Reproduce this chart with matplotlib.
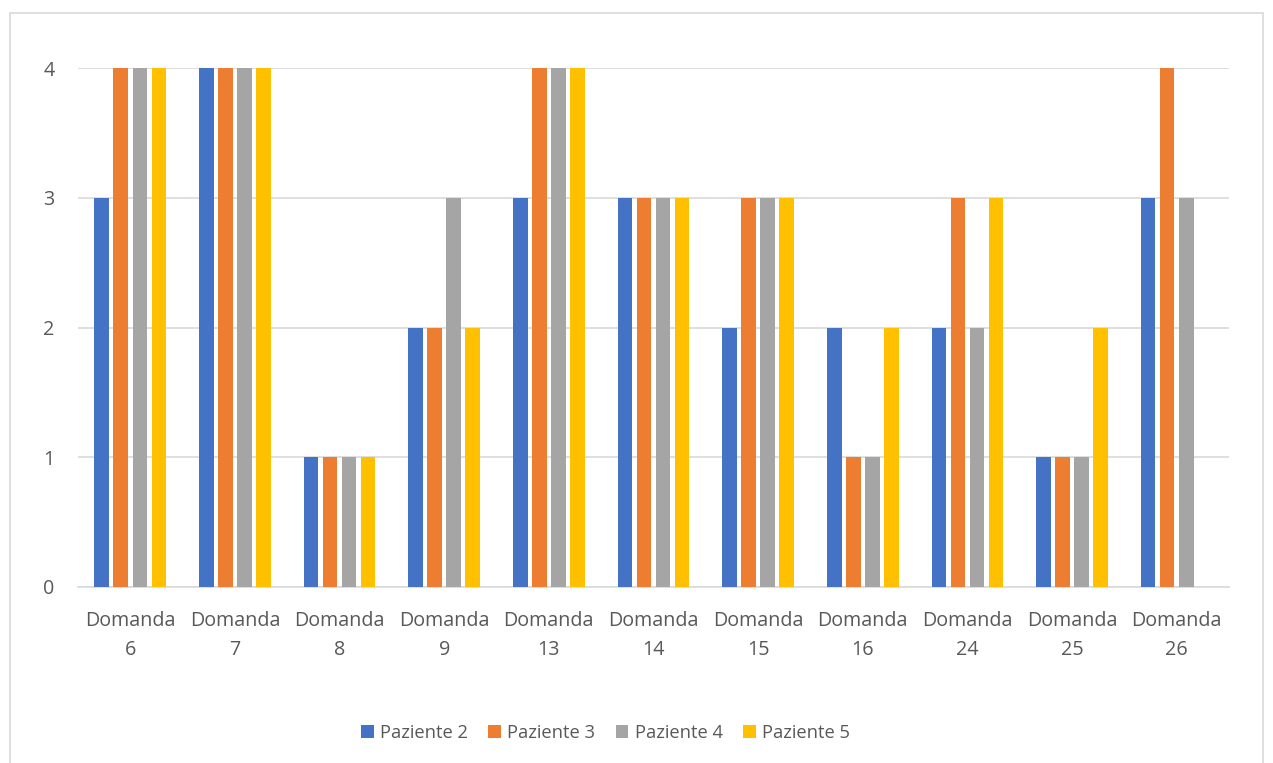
import matplotlib
matplotlib.use("Agg")
import matplotlib.pyplot as plt
from matplotlib.patches import Rectangle
import numpy as np

categories = ["Domanda\n6", "Domanda\n7", "Domanda\n8", "Domanda\n9", "Domanda\n13",
              "Domanda\n14", "Domanda\n15", "Domanda\n16", "Domanda\n24", "Domanda\n25",
              "Domanda\n26"]
paziente2 = [3, 4, 1, 2, 3, 3, 2, 2, 2, 1, 3]
paziente3 = [4, 4, 1, 2, 4, 3, 3, 1, 3, 1, 4]
paziente4 = [4, 4, 1, 3, 4, 3, 3, 1, 2, 1, 3]
paziente5 = [4, 4, 1, 2, 4, 3, 3, 2, 3, 2, 0]
series_names = ["Paziente 2", "Paziente 3", "Paziente 4", "Paziente 5"]
colors = ["#4472C4", "#ED7D31", "#A5A5A5", "#FFC000"]
yticks = [0, 1, 2, 3, 4]

plt.rcParams['font.family'] = ['Open Sans', 'DejaVu Sans']
text_color = "#595959"

W, H = 1273, 763
fig = plt.figure(figsize=(W / 100, H / 100), dpi=100)
fig.patch.set_facecolor("white")

# outer chart frame
fig.patches.append(Rectangle((9.5 / W, -0.05), (1263 - 9.5) / W, 1 - 12.5 / H + 0.05,
                             transform=fig.transFigure, fill=False,
                             edgecolor="#D9D9D9", linewidth=1.2))

ax = fig.add_axes([78 / W, 1 - 587 / H, (1229 - 78) / W, (587 - 68) / H])

x = np.arange(len(categories))
step = 0.182
width = 0.14
all_series = [paziente2, paziente3, paziente4, paziente5]
for i, (vals, name, c) in enumerate(zip(all_series, series_names, colors)):
    ax.bar(x + (i - 1.5) * step, vals, width=width, color=c, label=name, zorder=3)

ax.set_xlim(-0.5, len(categories) - 0.5)
ax.set_ylim(0, 4)
ax.set_yticks(yticks)
ax.set_yticklabels([str(v) for v in yticks])
ax.set_xticks(x)
ax.set_xticklabels(categories, linespacing=1.6)
ax.grid(axis="y", color="#D9D9D9", linewidth=1.2, zorder=0)
ax.set_axisbelow(True)
for s in ["top", "right", "left"]:
    ax.spines[s].set_visible(False)
ax.spines["bottom"].set_color("#D9D9D9")
ax.spines["bottom"].set_linewidth(1.2)
ax.tick_params(axis="both", length=0, colors=text_color, labelsize=14.2)
ax.tick_params(axis="y", pad=17)
ax.tick_params(axis="x", pad=17)

leg = fig.legend(loc="center", bbox_to_anchor=(605.5 / W, 1 - 733 / H), ncol=4,
                 frameon=False, fontsize=13.2, handlelength=0.7, handleheight=0.7,
                 handletextpad=0.35, columnspacing=1.1, labelcolor=text_color)

fig.savefig("out.png", dpi=100)
